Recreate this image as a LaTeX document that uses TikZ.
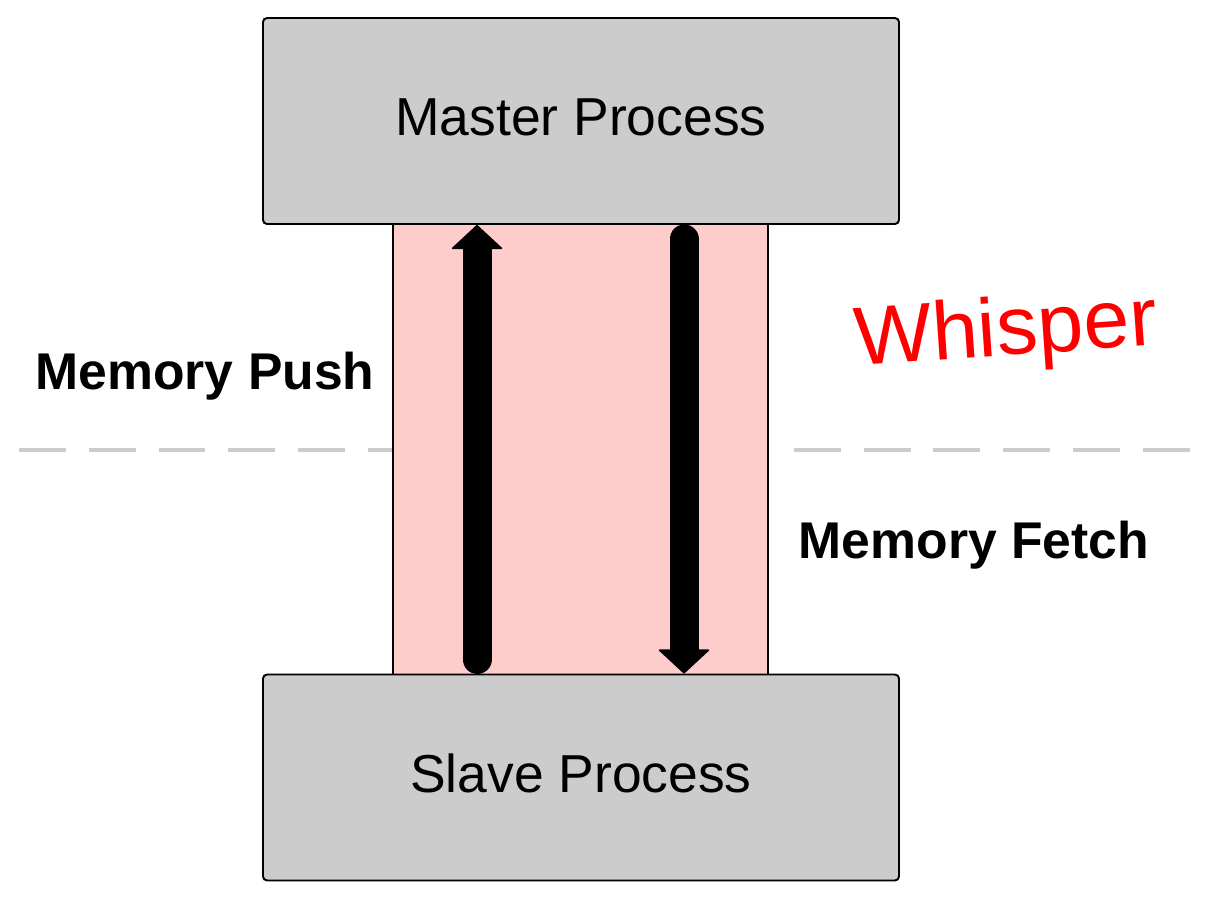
\documentclass[tikz,border=0pt]{standalone}
\usepackage{fontspec}
\setmainfont{Liberation Sans}
\usetikzlibrary{arrows.meta}

\begin{document}
\begin{tikzpicture}[
    procbox/.style={draw=black, line width=1.1pt, fill=black!20, rounded corners=2.3pt,
      minimum width=12.72cm, minimum height=4.12cm, text depth=0.45em,
      font=\fontsize{30.4}{36}\selectfont},
    band/.style={draw=black, line width=1pt, fill=red!20, minimum width=7.5cm, minimum height=9.02cm},
    bigarrow/.style={line width=16.5pt, line cap=round,
      -{Triangle[width=30pt, length=14pt, line width=1pt, round]}},
    divider/.style={black!20, line width=2.8pt, dash pattern=on 26.7pt off 13pt},
    sidelabel/.style={anchor=base, font=\bfseries\fontsize{29.4}{34}\selectfont}
  ]
  \useasboundingbox (0,0) rectangle (24.3,18);
  \node [band] (band) at (11.61,9.01) {};
  \node [procbox] (master) at (11.62,15.58) {Master Process};
  \node [procbox] (slave) at (11.62,2.45) {Slave Process};
  \coordinate (divleft) at (0.38,9.0);
  \coordinate (divright) at (23.8,9.0);
  \draw [divider] (divleft) -- (divleft -| band.west);
  \draw [divider] (divright -| band.east) ++(0.5,0) -- (divright);
  \draw [bigarrow, shorten <=8pt] ([xshift=-2.08cm]slave.north) -- ([xshift=-2.08cm]master.south);
  \draw [bigarrow, shorten <=8pt] ([xshift=2.06cm]master.south) -- ([xshift=2.06cm]slave.north);
  \node [sidelabel] (push) at (4.1,10.21) {Memory Push};
  \node [sidelabel] (fetch) at (19.48,6.84) {Memory Fetch};
  \node [red, rotate=4, text height=0.716em, text depth=0pt, font=\fontsize{47}{56}\selectfont] (whisper) at (20.14,11.02) {Whisper};
\end{tikzpicture}
\end{document}
